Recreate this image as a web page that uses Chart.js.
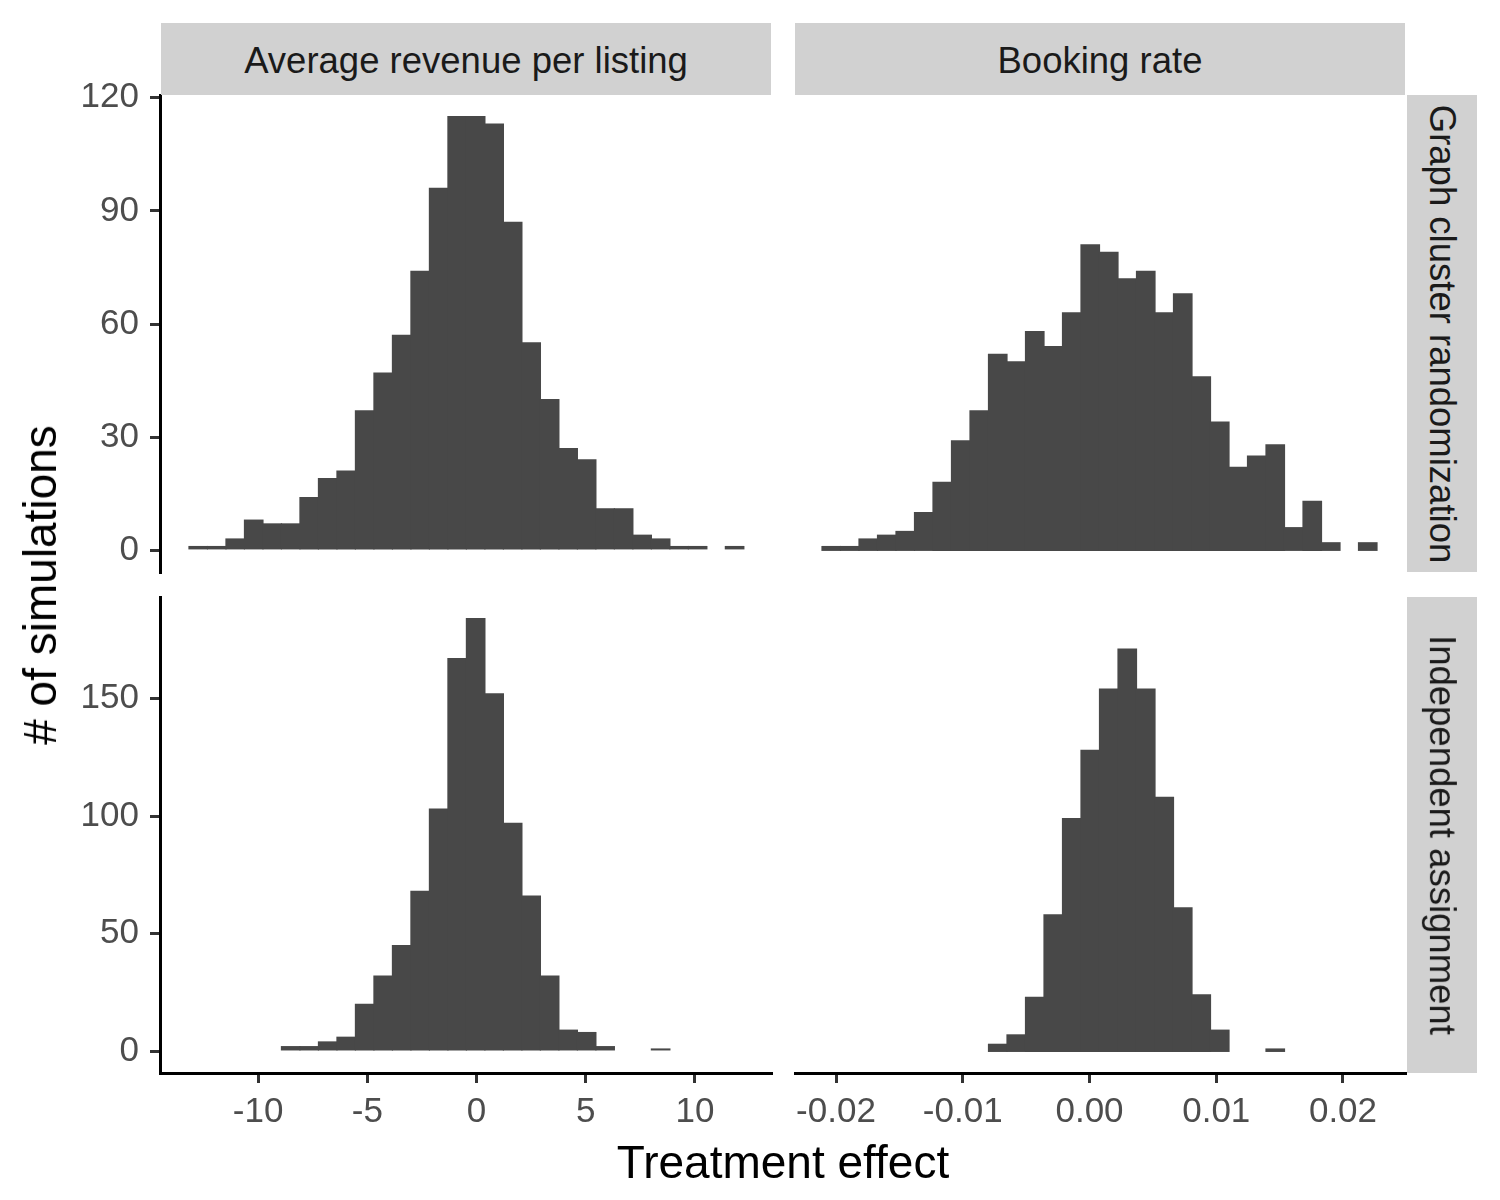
<!DOCTYPE html>
<html>
<head>
<meta charset="utf-8">
<script src="https://cdn.jsdelivr.net/npm/chart.js@4.4.0/dist/chart.umd.min.js"></script>
<style>
body { margin: 0; background: #fff; }
#wrap { position: relative; width: 1500px; height: 1200px; font-family: 'Liberation Sans', Arial, sans-serif; }
canvas { position: absolute; left: 0; top: 0; }
.strip { position: absolute; background: #D1D1D1; color: #1A1A1A; font-size: 36.5px; display: flex; align-items: center; justify-content: center; }
.vtext { transform: rotate(90deg); white-space: nowrap; }
.title { position: absolute; color: #000; font-size: 46px; white-space: nowrap; transform: translate(-50%, -50%); }
</style>
</head>
<body>
<div id="wrap">
  <canvas id="chartTL" width="1500" height="1200"></canvas>
  <canvas id="chartTR" width="1500" height="1200"></canvas>
  <canvas id="chartBL" width="1500" height="1200"></canvas>
  <canvas id="chartBR" width="1500" height="1200"></canvas>

  <div class="strip" style="left:161px;top:23px;width:610px;height:72px;padding-top:3px;box-sizing:border-box;">Average revenue per listing</div>
  <div class="strip" style="left:795px;top:23px;width:610px;height:72px;padding-top:3px;box-sizing:border-box;">Booking rate</div>
  <div class="strip" style="left:1407px;top:95px;width:70px;height:477px;"><span class="vtext">Graph cluster randomization</span></div>
  <div class="strip" style="left:1407px;top:597px;width:70px;height:476px;"><span class="vtext">Independent assignment</span></div>

  <div class="title" style="left:40px;top:585px;transform:translate(-50%,-50%) rotate(-90deg);"># of simulations</div>
  <div class="title" style="left:783px;top:1162px;">Treatment effect</div>
</div>

<script>
// bin centres (30 bins per column)
var revenueBins = [-12.740, -11.893, -11.047, -10.200, -9.353, -8.507, -7.660, -6.813, -5.966, -5.120,
                   -4.273, -3.426, -2.580, -1.733, -0.886, -0.040, 0.807, 1.654, 2.501, 3.347,
                   4.194, 5.041, 5.887, 6.734, 7.581, 8.428, 9.274, 10.121, 10.968, 11.814];
var bookingBins = [-0.020375, -0.018915, -0.017456, -0.015996, -0.014537, -0.013077, -0.011617, -0.010158, -0.008698, -0.007239,
                   -0.005779, -0.004319, -0.002860, -0.001400, 0.000059, 0.001519, 0.002979, 0.004438, 0.005898, 0.007357,
                   0.008817, 0.010277, 0.011736, 0.013196, 0.014655, 0.016115, 0.017575, 0.019034, 0.020494, 0.021953];

// counts per bin
var revenueGraph = [1, 1, 3, 8, 7, 7, 14, 19, 21, 37, 47, 57, 74, 96, 115, 115, 113, 87, 55, 40, 27, 24, 11, 11, 4, 3, 1, 1, 0, 1];
var bookingGraph = [1, 1, 3, 4, 5, 10, 18, 29, 37, 52, 50, 58, 54, 63, 81, 79, 72, 74, 63, 68, 46, 34, 22, 25, 28, 6, 13, 2, 0, 2];
var revenueIndep = [0, 0, 0, 0, 0, 2, 2, 4, 6, 20, 32, 45, 68, 103, 167, 184, 152, 97, 66, 32, 9, 8, 2, 0, 0, 1, 0, 0, 0, 0];
var bookingIndep = [0, 0, 0, 0, 0, 0, 0, 0, 0, 3, 7, 23, 58, 99, 128, 154, 171, 154, 108, 61, 24, 9, 0, 0, 1, 0, 0, 0, 0, 0];

// ticks
var yTicksGraph = [0, 30, 60, 90, 120];
var yTicksIndep = [0, 50, 100, 150];
var xTicksRevenue = [-10, -5, 0, 5, 10];
var xLabelsRevenue = ["-10", "-5", "0", "5", "10"];
var xTicksBooking = [-0.02, -0.01, 0, 0.01, 0.02];
var xLabelsBooking = ["-0.02", "-0.01", "0.00", "0.01", "0.02"];

var barColor = "#484848";
var tickColor = "#4D4D4D";
var fontFamily = "'Liberation Sans', Arial, sans-serif";

Chart.defaults.font.family = fontFamily;
Chart.defaults.animation = false;

function toPoints(bins, counts) {
  return bins.map(function (b, i) {
    return { x: b, y: counts[i] > 0 ? counts[i] : null };
  });
}

function makePanel(id, bins, counts, p) {
  new Chart(id, {
    type: "bar",
    data: {
      datasets: [{
        data: toPoints(bins, counts),
        backgroundColor: barColor,
        borderWidth: 0,
        inflateAmount: 0.6,
        barPercentage: 1,
        categoryPercentage: 1
      }]
    },
    options: {
      responsive: false,
      devicePixelRatio: 1,
      layout: { padding: p.padding },
      plugins: { legend: { display: false }, tooltip: { enabled: false } },
      scales: {
        x: {
          type: "linear",
          offset: false,
          display: p.showX,
          min: p.xMin,
          max: p.xMax,
          afterBuildTicks: function (s) { s.ticks = p.xTicks.map(function (v) { return { value: v }; }); },
          afterFit: function (s) { if (p.showX) s.height = 60; },
          border: { display: true, color: "#000", width: 3 },
          grid: { offset: false, drawOnChartArea: false, drawTicks: true, tickLength: 10, color: "#333", lineWidth: 3 },
          ticks: {
            color: tickColor,
            font: { size: 35 },
            padding: 8,
            maxRotation: 0,
            autoSkip: false,
            callback: function (v, i) { return p.xLabels[i]; }
          }
        },
        y: {
          type: "linear",
          display: p.showY,
          min: p.yMin,
          max: p.yMax,
          afterBuildTicks: function (s) { s.ticks = p.yTicks.map(function (v) { return { value: v }; }); },
          afterFit: function (s) { if (p.showY) s.width = 160; },
          border: { display: true, color: "#000", width: 3 },
          grid: { offset: false, drawOnChartArea: false, drawTicks: true, tickLength: 10, color: "#333", lineWidth: 3 },
          ticks: {
            color: tickColor,
            font: { size: 35 },
            padding: 11,
            autoSkip: false,
            callback: function (v) { return String(v); }
          }
        }
      }
    }
  });
}

// top row: graph cluster randomization
makePanel("chartTL", revenueBins, revenueGraph, {
  padding: { left: 0, top: 95, right: 729, bottom: 628 },
  showX: false, showY: true,
  xMin: -14.49, xMax: 13.48, xTicks: xTicksRevenue, xLabels: xLabelsRevenue,
  yMin: -5.75, yMax: 120.75, yTicks: yTicksGraph
});
makePanel("chartTR", bookingBins, bookingGraph, {
  padding: { left: 795, top: 95, right: 95, bottom: 628 },
  showX: false, showY: false,
  xMin: -0.023235, xMax: 0.024892, xTicks: xTicksBooking, xLabels: xLabelsBooking,
  yMin: -5.75, yMax: 120.75, yTicks: yTicksGraph
});

// bottom row: independent assignment
makePanel("chartBL", revenueBins, revenueIndep, {
  padding: { left: 0, top: 597, right: 729, bottom: 67 },
  showX: true, showY: true,
  xMin: -14.49, xMax: 13.48, xTicks: xTicksRevenue, xLabels: xLabelsRevenue,
  yMin: -9.2, yMax: 193.2, yTicks: yTicksIndep
});
makePanel("chartBR", bookingBins, bookingIndep, {
  padding: { left: 795, top: 597, right: 95, bottom: 67 },
  showX: true, showY: false,
  xMin: -0.023235, xMax: 0.024892, xTicks: xTicksBooking, xLabels: xLabelsBooking,
  yMin: -9.2, yMax: 193.2, yTicks: yTicksIndep
});
</script>
</body>
</html>
